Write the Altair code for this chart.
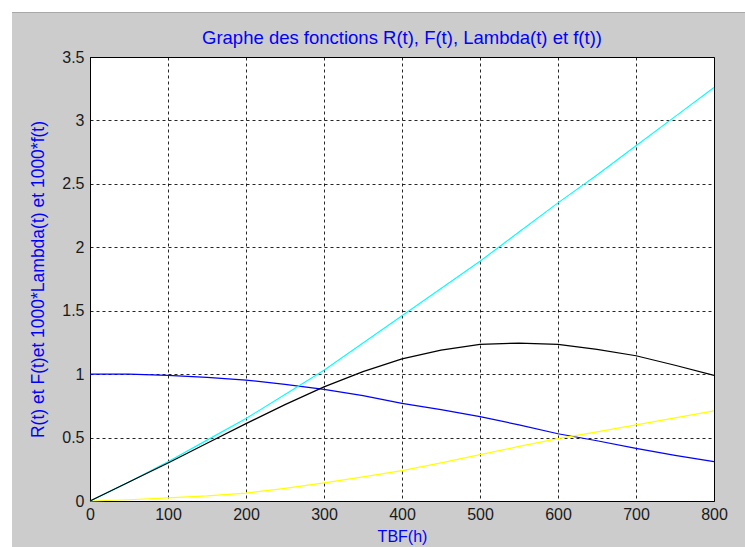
import altair as alt
import pandas as pd

# Values
t_hours = [0, 50, 100, 150, 200, 250, 300, 350, 400, 450, 500, 550, 600, 650, 700, 750, 800]
R_vals = [1.0, 1.0, 0.99, 0.975, 0.953, 0.92, 0.88, 0.83, 0.77, 0.72, 0.665, 0.60, 0.53, 0.475, 0.415, 0.36, 0.31]
F_vals = [0.0, 0.01, 0.025, 0.04, 0.062, 0.10, 0.143, 0.19, 0.24, 0.30, 0.365, 0.43, 0.492, 0.545, 0.60, 0.655, 0.71]
lambda_vals = [0.0, 0.15, 0.31, 0.48, 0.65, 0.84, 1.03, 1.245, 1.46, 1.675, 1.89, 2.12, 2.35, 2.57, 2.80, 3.03, 3.26]
f_vals = [0.0, 0.15, 0.30, 0.455, 0.61, 0.76, 0.90, 1.02, 1.12, 1.19, 1.235, 1.245, 1.235, 1.195, 1.145, 1.07, 0.99]

x_ticks = [0, 100, 200, 300, 400, 500, 600, 700, 800]
y_ticks = [0, 0.5, 1, 1.5, 2, 2.5, 3, 3.5]

series_names = ["R", "F", "Lambda", "f"]
series_colors = ["#0000FF", "#FFFF00", "#00FFFF", "#000000"]
series_values = [R_vals, F_vals, lambda_vals, f_vals]

rows = []
for name, vals in zip(series_names, series_values):
    for t, v in zip(t_hours, vals):
        rows.append({"t": t, "v": v, "serie": name})
df = pd.DataFrame(rows)

W, H = 624, 444

x_enc = alt.X(
    "t:Q",
    scale=alt.Scale(domain=[0, 800], nice=False),
    axis=alt.Axis(
        values=x_ticks, title="TBF(h)", titleColor="#0000FF", titleFontSize=16,
        titleFontWeight="normal", titleFont="Liberation Sans",
        titleY=35, titleBaseline="middle", labelPadding=5, labelFlush=False,
    ),
)
y_enc = alt.Y(
    "v:Q",
    scale=alt.Scale(domain=[0, 3.5], nice=False),
    axis=alt.Axis(
        values=y_ticks, format="~g", title="R(t) et F(t)et 1000*Lambda(t) et 1000*f(t)",
        titleColor="#0000FF", titleFontSize=17.5, titleFontWeight="normal",
        titleFont="Liberation Sans", titleX=-52, titleY=H / 2, titleAngle=-90,
        titleAlign="center", titleBaseline="middle", labelPadding=6, labelFlush=False,
    ),
)

layers = []
for name, col in zip(series_names, series_colors):
    layers.append(
        alt.Chart(df)
        .transform_filter(alt.datum.serie == name)
        .mark_line(color=col, strokeWidth=1.2)
        .encode(x=x_enc, y=y_enc)
    )

# white window frame strips (top and left), outside the axes
frame_top = alt.Chart(pd.DataFrame({"a": [0]})).mark_rect(color="white").encode(
    x=alt.value(-90), x2=alt.value(655), y=alt.value(-57), y2=alt.value(-44)
)
frame_left = alt.Chart(pd.DataFrame({"a": [0]})).mark_rect(color="white").encode(
    x=alt.value(-90), x2=alt.value(-78), y=alt.value(-57), y2=alt.value(490)
)
frame_line = alt.Chart(pd.DataFrame({"a": [0]})).mark_rule(color="#A8A8A8", strokeWidth=1).encode(
    x=alt.value(-78), x2=alt.value(655), y=alt.value(-44.5)
)

chart = (
    alt.layer(frame_top, frame_left, frame_line, *layers)
    .properties(
        width=W,
        height=H,
        title=alt.TitleParams(
            "Graphe des fonctions R(t), F(t), Lambda(t) et f(t))",
            color="#0000FF", fontSize=18.5, fontWeight="normal", font="Liberation Sans",
            anchor="middle", offset=0, dy=47,
        ),
        autosize=alt.AutoSizeParams(type="none"),
        padding={"left": 90, "top": 57, "right": 31, "bottom": 46},
        background="#CCCCCC",
    )
    .configure_view(fill="white", stroke="black", strokeWidth=1)
    .configure_axis(
        grid=True, gridColor="#000000", gridDash=[3, 3], gridOpacity=0.85, gridWidth=1,
        domainColor="black", domainWidth=1, ticks=False,
        labelFont="Liberation Sans", labelFontSize=16, labelColor="#1a1a1a",
    )
)

chart.save("out.html", embed_options={"renderer": "svg", "actions": False})
